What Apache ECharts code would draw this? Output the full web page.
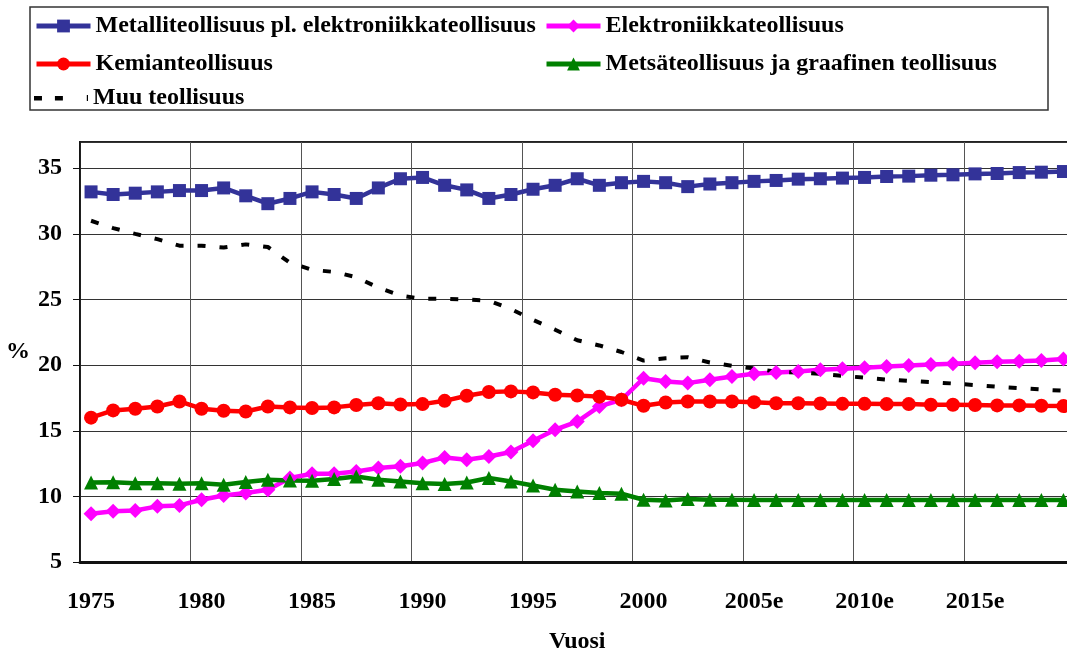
<!DOCTYPE html>
<html>
<head>
<meta charset="utf-8">
<script src="https://cdn.jsdelivr.net/npm/echarts@6.0.0/dist/echarts.min.js"></script>
<style>
  html, body { margin: 0; padding: 0; background: #fff; }
  #chart { width: 1067px; height: 650px; }
</style>
</head>
<body>
<div id="chart"></div>
<script>
// vuodet (2005 eteenpäin arvioita)
var years = [
  '1975', '1976', '1977', '1978', '1979', '1980', '1981', '1982', '1983', '1984',
  '1985', '1986', '1987', '1988', '1989', '1990', '1991', '1992', '1993', '1994',
  '1995', '1996', '1997', '1998', '1999', '2000', '2001', '2002', '2003', '2004',
  '2005e', '2006e', '2007e', '2008e', '2009e', '2010e', '2011e', '2012e', '2013e', '2014e',
  '2015e', '2016e', '2017e', '2018e', '2019e'
]

var metalli = [
  33.2, 33.0, 33.1, 33.2, 33.3, 33.3, 33.5, 32.9, 32.3, 32.7,
  33.2, 33.0, 32.7, 33.5, 34.2, 34.3, 33.7, 33.35, 32.7, 33.0,
  33.4, 33.7, 34.2, 33.7, 33.9, 34.0, 33.9, 33.6, 33.8, 33.9,
  34.0, 34.07, 34.17, 34.2, 34.25, 34.3, 34.37, 34.4, 34.47, 34.5,
  34.57, 34.6, 34.67, 34.7, 34.75
]
var elektroniikka = [
  8.68, 8.86, 8.93, 9.24, 9.31, 9.74, 10.07, 10.25, 10.5, 11.4,
  11.72, 11.72, 11.9, 12.16, 12.3, 12.54, 12.97, 12.79, 13.04, 13.38,
  14.24, 15.08, 15.7, 16.85, 17.36, 19.0, 18.76, 18.63, 18.88, 19.13,
  19.34, 19.44, 19.52, 19.65, 19.72, 19.8, 19.9, 19.97, 20.05, 20.1,
  20.18, 20.25, 20.3, 20.35, 20.46
]
var kemia = [
  16.0, 16.55, 16.68, 16.85, 17.23, 16.68, 16.52, 16.47, 16.85, 16.78,
  16.73, 16.78, 16.96, 17.1, 17.0, 17.03, 17.28, 17.67, 17.95, 18.0,
  17.92, 17.74, 17.69, 17.6, 17.36, 16.9, 17.15, 17.23, 17.23, 17.23,
  17.18, 17.1, 17.1, 17.08, 17.05, 17.05, 17.03, 17.03, 16.98, 16.98,
  16.96, 16.93, 16.93, 16.9, 16.88
]
var metsa = [
  11.06, 11.08, 11.0, 11.0, 10.96, 11.0, 10.89, 11.09, 11.27, 11.21,
  11.19, 11.32, 11.52, 11.27, 11.14, 11.0, 10.94, 11.06, 11.4, 11.14,
  10.83, 10.5, 10.38, 10.25, 10.2, 9.74, 9.69, 9.8, 9.74, 9.74,
  9.72, 9.72, 9.72, 9.72, 9.72, 9.72, 9.72, 9.72, 9.72, 9.72,
  9.72, 9.72, 9.72, 9.72, 9.72
]
var muu = [
  31.0, 30.44, 30.0, 29.6, 29.1, 29.1, 28.96, 29.2, 29.0, 27.8,
  27.26, 27.1, 26.7, 25.9, 25.3, 25.05, 25.05, 25.0, 24.9, 24.27,
  23.45, 22.7, 21.9, 21.5, 21.0, 20.35, 20.53, 20.6, 20.2, 19.95,
  19.75, 19.5, 19.44, 19.34, 19.19, 19.04, 18.9, 18.8, 18.7, 18.6,
  18.48, 18.35, 18.25, 18.14, 18.05
]

// x-akselin tunnukset joka viides vuosi
var tickLabels = ['1975', '1980', '1985', '1990', '1995', '2000', '2005e', '2010e', '2015e']

var names = [
  'Metalliteollisuus pl. elektroniikkateollisuus',
  'Elektroniikkateollisuus',
  'Kemianteollisuus',
  'Metsäteollisuus ja graafinen teollisuus',
  'Muu teollisuus'
]

var font = 'Liberation Serif'
var txt = { fontFamily: font, fontWeight: 'bold', fontSize: 24, color: '#000', lineHeight: 24 }

// katkoviivan selitekuvake (pienet pisteet ylä- ja alareunassa pitävät mittasuhteet)
var dashIcon = 'path://M0,0h0.01v0.01h-0.01zM0,16h0.01v0.01h-0.01zM0,6h8v4.5h-8zM21,6h8v4.5h-8zM53,5h1.2v6h-1.2z'

function legendAt(item, left, top) {
  return {
    data: [item],
    left: left,
    top: top,
    itemWidth: 54,
    itemHeight: 16,
    padding: 0,
    itemGap: 0,
    selectedMode: false,
    lineStyle: { width: 5 },
    textStyle: txt
  }
}

var chart = echarts.init(document.getElementById('chart'))
chart.setOption({
  animation: false,
  backgroundColor: '#fff',
  graphic: [
    {
      type: 'rect',
      shape: { x: 30, y: 7, width: 1018, height: 103 },
      style: { fill: 'none', stroke: '#333', lineWidth: 1.5 },
      z: -1
    }
  ],
  legend: [
    legendAt(names[0], 34, 14),
    legendAt(names[1], 544, 14),
    legendAt(names[2], 34, 52),
    legendAt(names[3], 544, 52),
    legendAt({ name: names[4], icon: dashIcon }, 34, 86)
  ],
  grid: {
    left: 80,
    top: 142,
    bottom: 88,
    width: 994.5,
    outerBoundsMode: 'none',
    show: true,
    borderColor: '#222',
    borderWidth: 2
  },
  xAxis: {
    type: 'category',
    data: years,
    boundaryGap: true,
    name: 'Vuosi',
    nameLocation: 'middle',
    nameGap: 68,
    nameTextStyle: txt,
    axisLine: { lineStyle: { color: '#111', width: 3 } },
    axisTick: { interval: 4, length: 8, lineStyle: { color: '#333', width: 1 } },
    axisLabel: {
      interval: 4,
      margin: 28,
      fontFamily: font,
      fontWeight: 'bold',
      fontSize: 24,
      color: '#000',
      formatter: function (v, i) { return tickLabels[i / 5] }
    },
    splitLine: { show: true, interval: 4, lineStyle: { color: '#555', width: 1 } }
  },
  yAxis: {
    type: 'value',
    min: 5,
    max: 37,
    interval: 5,
    name: '%',
    nameLocation: 'middle',
    nameRotate: 0,
    nameGap: 50,
    nameTextStyle: Object.assign({}, txt, { padding: [10, 0, 0, 0] }),
    axisLine: { show: true, lineStyle: { color: '#111', width: 1.5 } },
    axisTick: { show: true, length: 7, lineStyle: { color: '#111', width: 1 } },
    axisLabel: {
      margin: 18,
      showMaxLabel: false,
      fontFamily: font,
      fontWeight: 'bold',
      fontSize: 24,
      color: '#000'
    },
    splitLine: { lineStyle: { color: '#333', width: 1 } }
  },
  series: [
    {
      name: names[0],
      type: 'line',
      data: metalli,
      symbol: 'rect',
      symbolSize: 13,
      showAllSymbol: true,
      itemStyle: { color: '#333399' },
      lineStyle: { color: '#333399', width: 4.5 }
    },
    {
      name: names[1],
      type: 'line',
      data: elektroniikka,
      symbol: 'diamond',
      symbolSize: 15,
      showAllSymbol: true,
      itemStyle: { color: '#ff00ff' },
      lineStyle: { color: '#ff00ff', width: 4.5 }
    },
    {
      name: names[2],
      type: 'line',
      data: kemia,
      symbol: 'circle',
      symbolSize: 14,
      showAllSymbol: true,
      itemStyle: { color: '#ff0000' },
      lineStyle: { color: '#ff0000', width: 4.5 }
    },
    {
      name: names[3],
      type: 'line',
      data: metsa,
      symbol: 'triangle',
      symbolSize: 14,
      showAllSymbol: true,
      itemStyle: { color: '#008000' },
      lineStyle: { color: '#008000', width: 4.5 }
    },
    {
      name: names[4],
      type: 'line',
      data: muu,
      symbol: 'none',
      itemStyle: { color: '#000' },
      lineStyle: { color: '#000', width: 4, type: [8, 14] }
    }
  ]
})
</script>
</body>
</html>
